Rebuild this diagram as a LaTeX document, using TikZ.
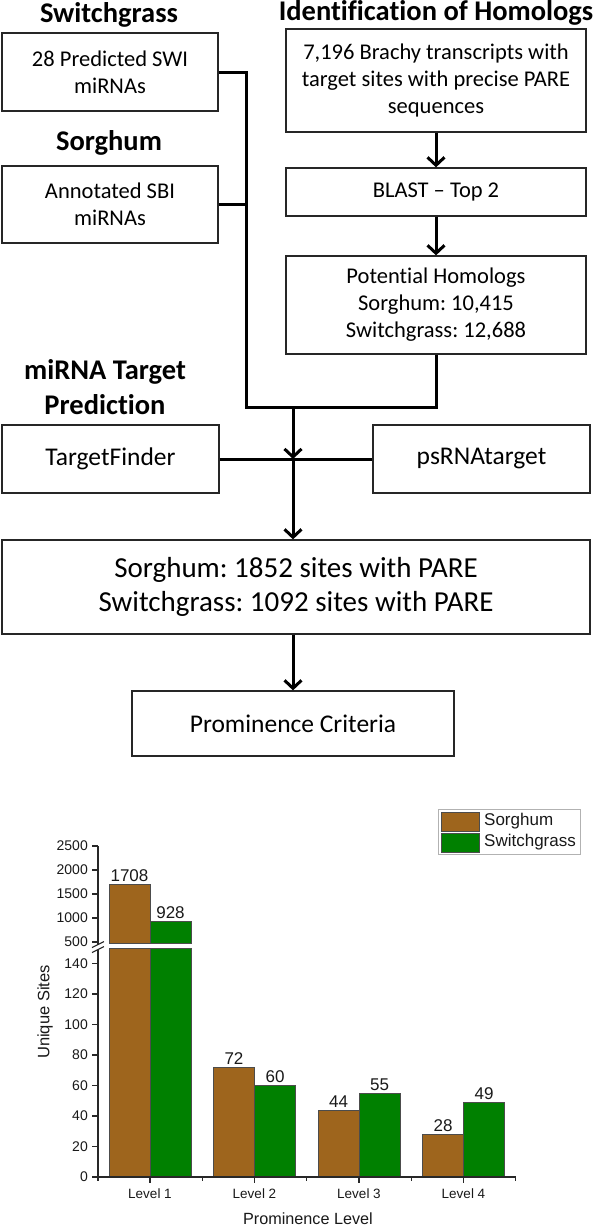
\documentclass[tikz,border=0pt]{standalone}
\usepackage{fontspec}
\setmainfont{Carlito}[Ligatures={NoCommon}]
\newfontfamily\arialf{Liberation Sans}
\usetikzlibrary{arrows.meta}
\definecolor{sorg}{RGB}{158,101,29}
\definecolor{swg}{RGB}{0,128,0}
\definecolor{axc}{RGB}{40,40,40}
\newcommand\fsA{\fontsize{22.5}{27}\selectfont}
\newcommand\fsB{\fontsize{25.5}{30}\selectfont}
\newcommand\fsC{\fontsize{29}{34}\selectfont}
\newcommand\fsT{\fontsize{28.5}{35}\selectfont\bfseries}
\frenchspacing
\begin{document}
\begin{tikzpicture}[x=1pt,y=-1pt,
  box/.style={draw=black!85, line width=1.3pt, align=center, inner sep=0pt},
  ttl/.style={font=\fsT, align=center, inner sep=0pt},
  conn/.style={line width=3pt, black},
  arr/.style={line width=3pt, black, -{Straight Barb[length=8pt,width=17pt]}},
  bar/.style={draw=black!70, line width=0.7pt},
  ax/.style={draw=axc, line width=1.1pt},
  chart/.style={font=\arialf\fontsize{14}{16}\selectfont, text=black!90, inner sep=0pt},
  val/.style={font=\arialf\fontsize{17}{19}\selectfont, text=black!90, inner sep=0pt, anchor=south}]
\useasboundingbox (0,0) rectangle (597,1227);
\fill[white] (0,0) rectangle (597,1227);

% ---------- titles ----------
\node[ttl] (t1) at (109,15) {Switchgrass};
\node[ttl] (t2) at (109,143) {Sorghum};
\node[ttl] (t3) at (436,13) {Identification of Homologs};
\node[ttl] (t4) at (105,387.5) {miRNA Target\\Prediction};

% ---------- boxes ----------
\node[box, font=\fsA, minimum width=216pt, minimum height=78pt] (b1) at (110,72) {28 Predicted SWI\\miRNAs};
\node[box, font=\fsA, minimum width=216pt, minimum height=77pt] (b2) at (110,204.5) {Annotated SBI\\miRNAs};
\node[box, font=\fsA, minimum width=300pt, minimum height=103pt] (b3) at (436,80.5) {7,196 Brachy transcripts with\\target sites with precise PARE\\sequences};
\node[box, font=\fsA, minimum width=300pt, minimum height=48pt] (b4) at (436,192) {BLAST -- Top 2};
\node[box, font=\fsA, minimum width=300pt, minimum height=98pt] (b5) at (436,305) {Potential Homologs\\Sorghum: 10,415\\Switchgrass: 12,688};
\node[box, font=\fsB, minimum width=217pt, minimum height=68pt] (tf) at (110.5,459) {TargetFinder};
\node[box, font=\fsB, minimum width=217pt, minimum height=68pt] (ps) at (481.5,459) {psRNAtarget};
\node[box, font=\fsC, minimum width=588pt, minimum height=94pt] (big) at (296,587) {Sorghum: 1852 sites with PARE\\Switchgrass: 1092 sites with PARE};
\node[box, font=\fsB, minimum width=322pt, minimum height=65pt] (prom) at (293,723.5) {Prominence Criteria};

% ---------- connectors ----------
\coordinate (v1) at (246,72);
\coordinate (v2) at (246,204.5);
\coordinate (v3) at (246,407);
\coordinate (j1) at (293,407);
\coordinate (j2) at (293,459);
\draw[conn] (b1.east) -- (v1) -- (v3) -- (v3 -| b5.south) -- (b5.south);
\draw[conn] (b2.east) -- (v2);
\draw[arr] (b3.south) -- (b4.north);
\draw[arr] (b4.south) -- (b5.north);
\draw[arr] (j1) -- (j2);
\draw[conn] (tf.east) -- (ps.west);
\draw[arr] (j2) -- (j2 |- big.north);
\draw[arr] (big.south -| prom.north) -- (prom.north);

% ---------- chart ----------
% bars level 1 (broken)
\filldraw[bar, fill=sorg] (109,884) rectangle (150,943);
\filldraw[bar, fill=sorg] (109,948) rectangle (150,1177);
\filldraw[bar, fill=swg] (150,921.5) rectangle (191,943);
\filldraw[bar, fill=swg] (150,948) rectangle (191,1177);
\node[val] (v1708) at (129.5,881.5) {1708};
\node[val] (v928) at (170.5,919) {928};
% bars levels 2-4
\foreach \c/\a/\b in {254.5/72/60, 359/44/55, 463.5/28/49}{
  \pgfmathsetmacro\ya{1177-1.525*\a}
  \pgfmathsetmacro\yb{1177-1.525*\b}
  \filldraw[bar, fill=sorg] (\c-41,\ya) rectangle (\c,1177);
  \filldraw[bar, fill=swg] (\c,\yb) rectangle (\c+41,1177);
  \node[val] at (\c-20.5,\ya-2.5) {\a};
  \node[val] at (\c+20.5,\yb-2.5) {\b};
}
% y axis
\draw[ax] (98,846) -- (98,944.5);
\draw[ax] (98,949.5) -- (98,1177);
\draw[ax] (92,947.5) -- (104,941.5);
\draw[ax] (92,952.5) -- (104,946.5);
\foreach \v in {500,1000,1500,2000,2500}{
  \pgfmathsetmacro\yy{942-(\v-500)*0.048}
  \draw[ax] (92,\yy) -- (98,\yy);
  \node[chart, anchor=east] at (88,\yy) {\v};
}
\foreach \v in {0,20,40,60,80,100,120,140}{
  \pgfmathsetmacro\yy{1177-1.525*\v}
  \draw[ax] (92,\yy) -- (98,\yy);
  \node[chart, anchor=east] at (88,\yy) {\v};
}
% x axis
\draw[ax] (98,1177) -- (515.5,1177);
\foreach \c/\l in {150/1, 254.5/2, 359/3, 463.5/4}{
  \draw[ax] (\c,1177) -- (\c,1183);
  \node[chart, font=\arialf\fontsize{13.5}{15}\selectfont] at (\c,1194) {Level \l};
}
\foreach \c in {98, 202.25, 306.75, 411.25, 515.5}{
  \draw[ax] (\c,1177) -- (\c,1180.5);
}
\node[chart, font=\arialf\fontsize{16.2}{18}\selectfont] (xl) at (308,1219) {Prominence Level};
\node[chart, font=\arialf\fontsize{16.5}{18}\selectfont, rotate=90] (yl) at (45,1012) {Unique Sites};

% legend
\draw[draw=gray!60, line width=0.8pt, fill=white] (438,809) rectangle (580,854);
\filldraw[bar, fill=sorg] (441,812) rectangle (479,831);
\filldraw[bar, fill=swg] (441,833) rectangle (479,852);
\node[chart, font=\arialf\fontsize{17}{19}\selectfont, anchor=west] (ls) at (484,821.5) {Sorghum};
\node[chart, font=\arialf\fontsize{17}{19}\selectfont, anchor=west] (lw) at (484,842.5) {Switchgrass};
\end{tikzpicture}
\end{document}
